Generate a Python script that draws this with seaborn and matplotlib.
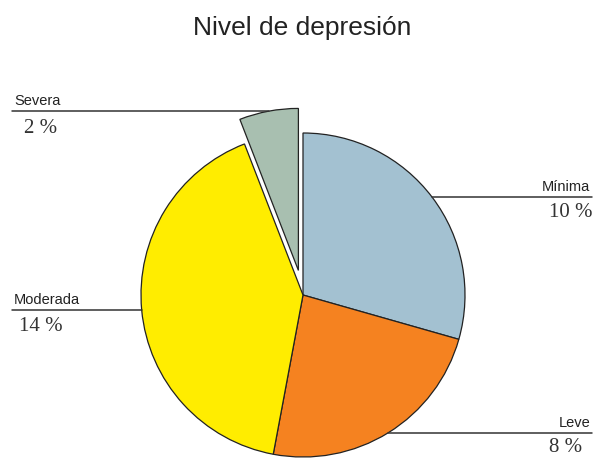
import matplotlib
matplotlib.use("Agg")
import matplotlib.pyplot as plt
import seaborn as sns
import numpy as np

# data
categorias = ["Mínima", "Leve", "Moderada", "Severa"]
valores = [10, 8, 14, 2]
etiquetas = ["10 %", "8 %", "14 %", "2 %"]
colores = ["#A3C1D1", "#F58220", "#FFED00", "#A8BFB0"]
separar = [0, 0, 0, 25]  # pie explode is in data units here (pixels)

sns.set_theme(style="white")
plt.rcParams["font.family"] = ["Liberation Sans", "DejaVu Sans"]

fig = plt.figure(figsize=(6.01, 4.59), dpi=100)
ax = fig.add_axes([0, 0, 1, 1])

wedges, _ = ax.pie(
    valores, colors=sns.color_palette(colores), startangle=90, counterclock=False,
    explode=separar, center=(303, 164), radius=162, frame=True,
    wedgeprops=dict(edgecolor="#222222", linewidth=0.9),
)
ax.set_xlim(0, 601)
ax.set_ylim(0, 459)
ax.axis("off")

# leader lines and labels
for w, cat, txt in zip(wedges, categorias, etiquetas):
    ang = np.deg2rad((w.theta1 + w.theta2) / 2)
    cx, cy = w.center
    x0 = cx + w.r * np.cos(ang)
    y0 = cy + w.r * np.sin(ang)
    if x0 > 303:
        ax.plot([x0, 592], [y0, y0], color="#333333", lw=1.1)
        ax.text(590, y0 + 3, cat, ha="right", va="bottom", fontsize=10.5, color="#222222")
        ax.text(549, y0 - 15, txt, ha="left", va="center", fontsize=15,
                family=["Liberation Serif", "DejaVu Serif"], color="#333333")
    else:
        ax.plot([12, x0], [y0, y0], color="#333333", lw=1.1)
        ax.text(14, y0 + 3, cat, ha="left", va="bottom", fontsize=10.5, color="#222222")
        ax.text(41, y0 - 17, txt, ha="center", va="center", fontsize=15,
                family=["Liberation Serif", "DejaVu Serif"], color="#333333")

fig.text(302 / 601, 1 - 28 / 459, "Nivel de depresión", ha="center", va="center",
         fontsize=19, color="#222222")

fig.savefig("out.png", dpi=100)
